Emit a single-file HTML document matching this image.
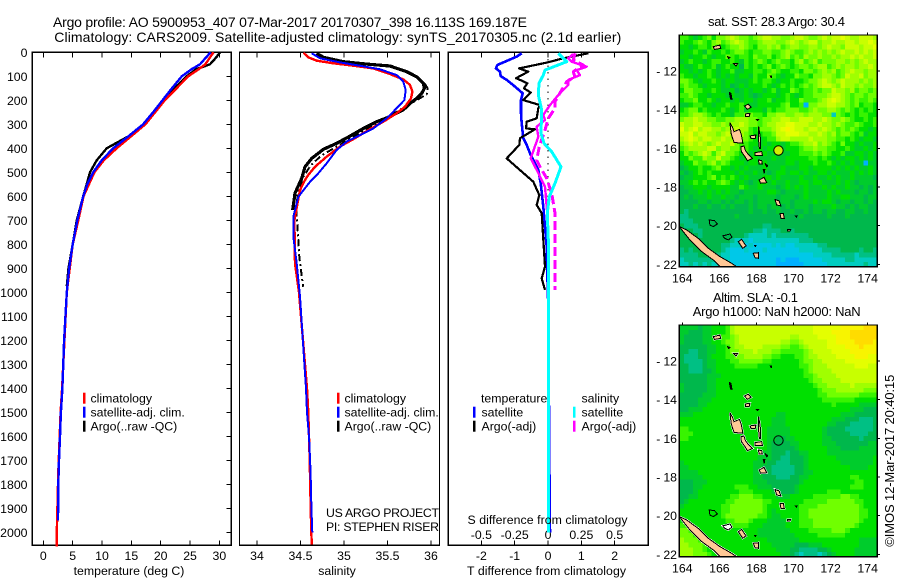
<!DOCTYPE html>
<html>
<head>
<meta charset="utf-8">
<title>Argo profile 5900953_407</title>
<style>
html,body{margin:0;padding:0;background:#fff;}
svg{display:block;}
text{font-family:"Liberation Sans",sans-serif;font-size:12.3px;fill:#000;}
</style>
</head>
<body>
<svg id="fig" xmlns="http://www.w3.org/2000/svg" width="900" height="580" viewBox="0 0 900 580">
<defs>
<clipPath id="clip-map1"><rect x="679.3" y="35" width="198" height="231.7"/></clipPath>
<clipPath id="clip-map2"><rect x="679.3" y="325" width="198" height="231.7"/></clipPath>
</defs>
<rect width="900" height="580" fill="#fff"/>
<text x="53" y="27" style="font-size:14px" textLength="474">Argo profile: AO 5900953_407 07-Mar-2017 20170307_398 16.113S 169.187E</text>
<text x="54.3" y="42" style="font-size:14px" textLength="567">Climatology: CARS2009. Satellite-adjusted climatology: synTS_20170305.nc (2.1d earlier)</text>

<g id="panel-t"></g>
<g id="panel-s"></g>
<g id="panel-d"></g>
<g id="map1"></g>
<g id="map2"></g>

<text x="129" y="575" text-anchor="middle">temperature (deg C)</text>
<text x="337" y="575" text-anchor="middle">salinity</text>
<text x="467" y="575" textLength="159">T difference from climatology</text>
<text x="467.5" y="524" textLength="160">S difference from climatology</text>

<g>
<rect x="83" y="392.7" width="2.5" height="11" fill="#f00"/>
<text x="90.5" y="402.3">climatology</text>
<rect x="83" y="406.7" width="2.5" height="11" fill="#00f"/>
<text x="90.5" y="416.5">satellite-adj. clim.</text>
<rect x="83" y="420.7" width="2.5" height="11" fill="#000"/>
<text x="90.5" y="430.7">Argo(..raw -QC)</text>
</g>
<g>
<rect x="337" y="392.7" width="2.5" height="11" fill="#f00"/>
<text x="344.5" y="402.3">climatology</text>
<rect x="337" y="406.7" width="2.5" height="11" fill="#00f"/>
<text x="344.5" y="416.5">satellite-adj. clim.</text>
<rect x="337" y="420.7" width="2.5" height="11" fill="#000"/>
<text x="344.5" y="430.7">Argo(..raw -QC)</text>
</g>
<text x="326" y="517" textLength="113">US ARGO PROJECT</text>
<text x="326" y="531" textLength="113">PI: STEPHEN RISER</text>
<g>
<text x="481" y="402.3">temperature</text>
<rect x="473" y="406.7" width="2.5" height="11" fill="#00f"/>
<text x="481.5" y="416.5">satellite</text>
<rect x="473" y="420.7" width="2.5" height="11" fill="#000"/>
<text x="481.5" y="430.7">Argo(-adj)</text>
<text x="581.5" y="402.3">salinity</text>
<rect x="573" y="406.7" width="2.5" height="11" fill="#0ff"/>
<text x="581.5" y="416.5">satellite</text>
<rect x="573" y="420.7" width="2.5" height="11" fill="#f0f"/>
<text x="581.5" y="430.7">Argo(-adj)</text>
</g>

<text x="708" y="26" style="font-size:13px" textLength="137">sat. SST: 28.3 Argo: 30.4</text>
<text x="713" y="302" style="font-size:13px" textLength="85">Altim. SLA: -0.1</text>
<text x="692.7" y="316" style="font-size:13px" textLength="168">Argo h1000: NaN h2000: NaN</text>
<text transform="translate(894,546.7) rotate(-90)" style="font-size:13px" textLength="172">©IMOS 12-Mar-2017 20:40:15</text>
</svg>
<script>
/* ---------- chart data ---------- */
const depthTicks = [0,100,200,300,400,500,600,700,800,900,1000,1100,1200,1300,1400,1500,1600,1700,1800,1900,2000];
const tempTicks = [0,5,10,15,20,25,30];
const salTicks = [34,34.5,35,35.5,36];
const salTickLabels = ['34','34.5','35','35.5','36'];
const tDiffTicks = [-2,-1,0,1,2];
const sDiffTicks = [-0.5,-0.25,0,0.25,0.5];
const sDiffTickLabels = ['-0.5','-0.25','0','0.25','0.5'];
const lonTicks = [164,166,168,170,172,174];
const latTicks = [-12,-14,-16,-18,-20,-22];

const tempArgoDepth = [0,20,50,70,100,200,300,350,400,450,500,550,600,700,800,900,975];
const tempArgo = [30.1,29.5,28.4,26.1,24.4,20.4,17.3,14.5,10.8,9.1,7.95,7.4,6.8,5.7,5.0,4.3,4.0];
const tempClimDepth = [0,50,70,100,200,300,400,450,500,600,700,800,1000,1400,1500,1750,2000,2060];
const tempClim = [29,27.6,26.5,24.7,20.7,17.4,12.5,10.3,8.7,6.85,5.96,5.0,4.0,3.2,2.95,2.55,2.3,2.3];
const tempSatDepth = [0,50,70,100,150,200,250,300,350,400,450,500,550,600,700,800,900,1000,1200,1400,1500,1600,1700,1800,1950];
const tempSat = [28.5,26.7,25.3,23.6,21.9,20.3,18.7,17,14.5,11.9,9.95,8.5,7.5,6.8,5.8,5,4.4,4,3.55,3.25,3,2.85,2.67,2.56,2.5];

const salArgoDepth = [4,21,39,49,57,81,102,129,150,171,192,213,240,268,289,317,349,379,404,442,477,525,587,657];
const salArgo = [34.686,34.763,34.993,35.261,35.529,35.721,35.836,35.912,35.924,35.893,35.836,35.759,35.682,35.529,35.376,35.223,35.069,34.916,34.763,34.629,34.552,34.514,34.437,34.41];
const salRawDepth = [130,150,175,430,470,520,585,657,713,852,977];
const salRaw = [35.93,35.96,35.95,34.74,34.62,34.53,34.47,34.45,34.463,34.486,34.53];
const salClimDepth = [1.5,21,35,46,56,67,88,113,136,164,192,227,254,289,324,358,393,435,477,511,532,574,600,700,880,1000,1400,1500,1700,1900,2000,2050];
const salClim = [34.533,34.59,34.686,34.878,35.108,35.338,35.51,35.68,35.759,35.786,35.77,35.7,35.606,35.452,35.28,35.127,34.954,34.8,34.667,34.59,34.552,34.494,34.48,34.43,34.437,34.483,34.575,34.59,34.606,34.617,34.624,34.63];
const salSatDepth = [4,25,42,56,71,95,122,157,199,233,275,317,345,372,407,463,504,539,602,685,768,879,1018,1400,1500,1600,1700,1800,1900,2000];
const salSat = [34.629,34.725,34.954,35.184,35.414,35.606,35.682,35.709,35.694,35.606,35.491,35.338,35.184,35.031,34.916,34.8,34.705,34.61,34.475,34.417,34.417,34.456,34.494,34.563,34.575,34.598,34.61,34.62,34.625,34.636];

const dTSatDepth = [4,18,39,53,67,81,99,115,143,171,199,254,296,358,386,428,463,490,546,643,727,810,921,1060,1500,1900,2000];
const dTSat = [-0.79,-0.94,-1.29,-1.52,-1.56,-1.44,-1.42,-1.24,-0.99,-0.76,-0.81,-0.81,-0.79,-0.74,-0.64,-0.52,-0.39,-0.29,-0.22,-0.14,-0.09,-0.04,-0.02,0.01,0.03,0.05,0.06];
const dTArgoDepth = [4,25,43,67,81,88,108,118,129,150,168,199,220,233,275,289,317,321,358,386,442,497,539,595,636,671,740,893,942,990];
const dTArgo = [1.21,0.46,-0.04,-0.87,-0.59,-0.69,-0.96,-0.79,-0.62,-0.72,-0.52,-0.74,-0.24,-0.29,-0.34,-0.64,-0.66,-0.39,-0.84,-0.86,-1.24,-0.79,-0.44,-0.26,-0.34,-0.19,-0.16,-0.09,-0.19,-0.09];
const dSSatDepth = [4,39,74,95,129,178,240,338,379,414,477,546,602,671,782,1060,1500,2000];
const dSSat = [0.0775,0.14,-0.0225,-0.035,-0.0675,-0.0725,-0.0475,-0.0525,-0.03,0.0275,0.0975,0.0525,0.01,-0.005,0.0025,0.0025,0.002,0.004];
const dSArgoDepth = [7,25,39,60,74,95,115,136,178,220,261,282,310,352,442,490,560,643,699];
const dSArgo = [0.19,0.1525,0.1775,0.29,0.215,0.24,0.1525,0.1525,0.0775,0.015,-0.035,-0.0225,-0.085,-0.0725,-0.13,-0.085,-0.0225,-0.01,-0.0025];
const dSRawDepth = [4,32,53,81,102,122,157,206,233,275,324,393,449,477,525,588,671,782,990];
const dSRaw = [0.2025,0.19,0.265,0.19,0.2025,0.14,0.1025,0.0525,0.0525,0.0025,-0.0225,-0.065,-0.085,-0.06,-0.01,0.0275,0.0525,0.0525,0.0525];

const argoLon = 169.187;
const argoLat = -16.113;
const gridLon0 = 163.84;
const gridLat0 = -10.14;
const gridDLon = 0.2485;
const gridDLat = 0.25;
const paletteKeys = 'abcdefghijklmn';
const paletteColors = ['#00b0ff','#00c8e8','#00ccc0','#00c084','#00b84c','#00cc2c','#00e000','#38f400','#70ff00','#a0ff00','#c8ff00','#e4ff00','#f8f400','#ffdc00'];

const sstGrid = [
"hhgfghigii jkjiihijkk jjiijkkjii jkjkklkjjk kkj",
"hgghihgijh ijkjihhijj jiijkjijkk ijjkjjkkjk klk",
"ggfghhgihg hiijihgiij ijhijjiijj ijkjjikkkj kkl",
"fgghgfhggh ghiihghhii hhijihhiji jijijkjjkj kjk",
"ggfgghgfgg ihghhgihhi ghijhihjii jiijijjkjk jjk",
"fghggfghhg ghgfhghihg hihhgijhij hiiijjijij kjj",
"gffghgghfg hggehghghi ghihghiihi jjhijijjij jkj",
"ggfgfghgfg ghffgghhgh ihgghhgiih ijijhijkjj ijj",
"hggfgghgfg fgfggfhggi hgfggihhgi ijjihikjjk ijj",
"iihgfgghgf ggfffghghh gfgghgghii jkjijkjjji jij",
"hihhgfgggf gefgfggghg fghghghihi jkkjikjjij iij",
"giihhgghgf fgefgfggfg hfggihghhi hiikjjijhi ihi",
"hhihggfggg fgffgfefgg gfghgfghhi iijkkjihii hii",
"ghhigghgfg gfgfggfggh fgghggihhh ijklkjihih hih",
"ffghhggfgg hgghgffggg gghigghaii jjkkjjihig hhg",
"ghiighgggh gfghfgggfh ghhiiihhij iijjihihgh ghg",
"hhijjihghg gfhhiihhgi ijjiijjijj jiicihghgh hgg",
"ijjkjjiihh iijjjiihii jjkkjjkkkj jkjiijihgg hgh",
"kjjkkjjiij ijjkjiihij jkkllkkkjj kjjijihhih ggh",
"ljkljkkjji jjkjjhgiii jklmlkkjkk jkjihihihg gfg",
"kkljkkjjij kjjjihgghh ikklllkkjj kjijhiihgh fgg",
"jklkjkkjjk jjiiihgfgh hjkkjjjjkj jjiihhghgf ggf",
"ijkjkjijkj jkihhggfgf ggfghhijjk ijihgiggfg ffg",
"hijjjjkkij jiihhgfgfg gffggghiij iihhgghgff gfg",
"gihijkjhjk iihghfgfgf fgffgghhhi hihgghffgg fgf",
"ggihhjiiki ihgfgggfff gffggggghh ghgfgfggfg fgf",
"fggihhijhi hgggfggfgf fffggfgggh gghgfgfgff aff",
"efgghgghig gfgfgfffgf ffgfffggfg gggfgfgfgf fgf",
"fefghghggg ggfgffgffe fggfggfgff ggfgfffgfg fgf",
"effggghigh ghgfgfffgg fgffffgffg ffgfgffgff ffe",
"ffghghgghi hgfgfefggf gffgffggfg gfffgfgfef fff",
"effgggfggg gffhgffgff fefgfgfgff fgfgffgffe fef",
"eeffgfgfgf gffefffffg gfeffffgff ffgfgfffef fef",
"efefffgffg ffefffefff fefffefgff ffgffggfff eff",
"eeeeffeffe feffefefff feffeffffg fggfeffeff efe",
"eeefeefeef efeeefeffe ffefefffef fffgffefef fee",
"edeeeeeeee eeeeefeefe efeefeefef feffeeffee fee",
"ddeeeeeeee eefeeeeeee eeeeeefeee eefeeefeee eee",
"dddeeeeeee eeeeeeeeee eeeeeeeeee eeeeeeeeee eee",
"edddeeeeee eeeeeeeedd eeeeeeeeee eeeeeeeeee eee",
"eeeddeeeee eeeeeeddcd ddeedeeeee eeeeeeeeee eee",
"eeeedeeeee eeeedccccd cdddddddee eeeeeeeeee eee",
"eeeeeeeeee edcccbcccc ccccccddde eeeeeeeeee eee",
"eeeeeeeeed dcccbcbbbb cbcbbccccc ddeeeeeeee eee",
"dedeeeeeed cbbbcbbbcb bbbbbbcccc cddddeeeed eed",
"ddddeeeedc cbbbbbbbbb bbbbbbbbbc cccdddddcd ddd",
"cdddddddcc cbbbbbbbbb babaaabbbb bcccccddcc ccc",
"ccdcdcdccc bbbbbbbbbb baaaaaabbb bbcccccccc dcc"
];

const slaGrid = [
"ffffeffggg hjkkkkkkkk kkkkkkkkkl lllllmmmmm nnn",
"ffeeeffggg hjkkkkkkkk kkkkkkkkkl lllmmmmnnn nnn",
"feeeeffggh hijkkkkkkk kkkkjjkkkk llllmmmnnn nnn",
"feeeeffggh iijkkkkkkk kkjjiijkkk kkllmmmmnn nnm",
"eeeeeeffgg hijjkkkkjj jjiihhijkk kkllllmmmn mmm",
"eeddeeffgg hiijjjkjjj iihhhhhijk kkkllllmmm mmm",
"edddeefggg hhiijjjjii hhggghhijj kkkkllllmm mll",
"eddddeffgg ghhiiiiihh gggggghiij jkkkkkllll lll",
"eedddeffgg gghhhhhggg gggggghhij jjkkkkkkll lkk",
"eedddeefgg gggggggggg ggggggghij jjjkkkkkkk kkk",
"eeeeeefffg gggggggggg ggggggghhi jjjjkkkkkk kkk",
"eeeeeeffgg gggggggggg gggggggghi ijjjjkkkkk kkk",
"feeeeeffgg gggggggggg gggggggggh iijjjjjkjj jjj",
"feeeeeffgg gggggggggg gggggggggg hiiijjjjjj iii",
"eeeeefffgg gggggggggg gggggggggg hhiiiiiiih hhh",
"eeeefffggg gggggggggg gggggggggg ghhhhhhhgg ggg",
"eeeeffgggg gggggggggg gggggggggg ggghgggggf fff",
"eefffggggg gggggggggg gggggggggg gggggggfff eee",
"fffggggggg gggggggggg gffggggggg gggggfffee eee",
"gggggggggg gggggggggg fffggggggg gggfffeeed dde",
"gggggggggg gggggggggg fffggggggg ggffeeeddd dde",
"hhgggggggg gggggggggf ffffgggggg gfeeeedddd dde",
"hhhggggggg gggggggggf ffffgggggg gfeeeeeddd dee",
"hhgggggggg gggggggggf feeffggggg gffeeeeeed eee",
"gggggggggg gggggggggf eeeeffgggg gfffeeeeee eff",
"gggggggggg gggggggggf eeeeefgggg ggfffeeeef fff",
"gggggggggg ggggggggff eeedeeffgg ggffffffff fff",
"gggggggggg gggggggfff eeddeeefgg ggggffffff ffg",
"fggggggggg ggggggfffe edddeeefgg gggggfffff ffg",
"ffgggggggg ggggggffee dddddeefgg gggggggfff fgg",
"ffffgggggg ggggggffee dddddeeffg gggggggggg ggg",
"fffffggggg ggggggffee edddeeffgg ggggggghhg ggg",
"eeefffgggg ggggggfffe eeeeeefggg gggggggghh ggg",
"eeeffggggg gghhhggfff eeeeefgggg ggggggghhh ggg",
"eeefgggggg ggghhhgggg ffeeefgggg gghhhggggg ggg",
"eeffgggggg ghhiiihhgg gfffgggggh hhhhhiihhg ggg",
"efgggggggg hhiiiiiihh ggggggghhh hhiiiiiihh ggg",
"fggggggggh hiiiiiiihg gggggghhhh iiiiiiiiih ggg",
"gggggggggh hiiiiiiihg fggggghhii iiiiiiiiih hgg",
"gggggggggh iiiiiiihhg ffgggghhii iiiiiiiiih hgg",
"gggggggggg hhiiihgggf fffggghhhi iiiiiiiiih ggg",
"hhgggggggg ghhhhgggff fffggghhhi iiiiiiiihg ggg",
"iihhgggggg gggggggfff ffffgggghh hhhiiihggg ggg",
"iiihhggggg gggggggfff fffffggggg hhhhhhgggg ggg",
"jiiihggggg gggggggggf ffffffgggg gggggggggf fff",
"jjiiihgggg gggggggggg fffffeeeff fggggggggf fff",
"jjjiihgggg gggggggggg gfffeedddd eefgggggff fff",
"jjjiiihggg gggggggggg ggffedcddd cdefggggff fff"
];

const landIslands = [
  [[163.84,-20.05],[164.23,-20.22],[164.86,-20.66],[165.4,-21.17],[166.03,-21.6],[166.66,-21.95],[166.93,-22.12],[166.03,-22.12],[165.67,-21.78],[165.04,-21.34],[164.41,-20.74],[164.05,-20.31]],
  [[166.57,-14.67],[166.7,-14.9],[166.79,-15.14],[167.08,-15.02],[167.17,-15.25],[167.22,-15.48],[167.27,-15.74],[167.02,-15.72],[166.79,-15.69],[166.7,-15.45],[166.63,-15.22]],
  [[167.17,-15.91],[167.33,-15.88],[167.4,-16.1],[167.51,-16.26],[167.79,-16.52],[167.51,-16.64],[167.36,-16.4],[167.18,-16.17]],
  [[168.12,-14.88],[168.23,-15.57],[168.23,-16.0],[168.16,-16.0],[168.1,-15.43]],
  [[167.92,-16.22],[168.28,-16.17],[168.32,-16.36],[167.92,-16.36]],
  [[168.1,-16.6],[168.28,-16.64],[168.32,-16.81],[168.15,-16.81]],
  [[168.14,-17.64],[168.41,-17.5],[168.55,-17.78],[168.23,-17.81]],
  [[169,-18.64],[169.22,-18.72],[169.32,-18.98],[169.09,-18.93]],
  [[169.27,-19.36],[169.45,-19.36],[169.5,-19.62],[169.32,-19.62]],
  [[169.68,-20.19],[169.85,-20.19],[169.81,-20.28],[169.67,-20.28]],
  [[167.65,-15.36],[167.97,-15.31],[167.94,-15.48],[167.71,-15.5]],
  [[167.35,-13.81],[167.56,-13.72],[167.71,-13.88],[167.51,-13.98]],
  [[167.4,-14.22],[167.65,-14.19],[167.61,-14.36],[167.4,-14.36]],
  [[165.67,-10.74],[166.03,-10.66],[166.07,-10.83],[165.73,-10.88]],
  [[166.75,-11.6],[166.99,-11.6],[166.9,-11.74]],
  [[167.02,-20.83],[167.2,-20.71],[167.44,-21.05],[167.26,-21.17]],
  [[167.83,-21.43],[168.1,-21.4],[168.1,-21.69],[167.92,-21.66]]
];
const reefOutlines = [
  [[165.45,-19.71],[165.73,-19.74],[165.9,-19.91],[165.67,-20.05],[165.49,-19.97]],
  [[166.18,-20.53],[166.58,-20.43],[166.68,-20.6],[166.48,-20.74],[166.3,-20.66]]
];
const blackIslets = [
  [[166.45,-11.26],[166.57,-11.3],[166.5,-11.36]],
  [[166.54,-13.12],[166.62,-13.15],[166.68,-13.47],[166.6,-13.45]],
  [[168.75,-12.26],[168.8,-12.26],[168.8,-12.36]],
  [[168.46,-16.78],[168.6,-16.9],[168.55,-16.95]],
  [[168.37,-17.1],[168.45,-17.1],[168.42,-17.3]],
  [[168.02,-14.52],[168.1,-14.52],[168.06,-14.56]],
  [[167.9,-21.02],[167.97,-21.02],[167.95,-21.08]],
  [[170.1,-19.5],[170.2,-19.5],[170.15,-19.56]]
];

/* ---------- axis functions ---------- */
const yDepth = d => 52.3 + 0.24 * d;
const xTemp = v => 43.3 + 5.87 * v;
const xSal = v => 257 + 87 * (v - 34);
const xDT = v => 548 + 33.33 * v;
const xDS = v => 548 + 133.3 * v;
const xLon = v => 682.3 + 18.54 * (v - 164);
const yLat1 = v => 71 + 19.33 * (-12 - v);
const yLat2 = v => 361 + 19.33 * (-12 - v);

/* ---------- helpers ---------- */
const NS = 'http://www.w3.org/2000/svg';
function node(tag, parent) {
  const el = document.createElementNS(NS, tag);
  parent.appendChild(el);
  return el;
}
function drawLine(parent, x1, y1, x2, y2, w) {
  const el = node('line', parent);
  el.setAttribute('x1', x1);
  el.setAttribute('y1', y1);
  el.setAttribute('x2', x2);
  el.setAttribute('y2', y2);
  el.setAttribute('stroke', '#000');
  el.setAttribute('stroke-width', w);
  el.setAttribute('shape-rendering', 'crispEdges');
  return el;
}
function drawText(parent, x, y, str, anchor) {
  const el = node('text', parent);
  el.setAttribute('x', x);
  el.setAttribute('y', y);
  el.setAttribute('text-anchor', anchor);
  el.textContent = str;
  return el;
}
function drawFrame(parent, x, y, w, h) {
  const el = node('rect', parent);
  el.setAttribute('x', x);
  el.setAttribute('y', y);
  el.setAttribute('width', w);
  el.setAttribute('height', h);
  el.setAttribute('fill', 'none');
  el.setAttribute('stroke', '#000');
  el.setAttribute('stroke-width', 1.3);
  el.setAttribute('shape-rendering', 'crispEdges');
  
  
}
function drawProfile(parent, depths, vals, xf, color, width, dash) {
  const el = node('polyline', parent);
  el.setAttribute('points', depths.map((d, i) => xf(vals[i]).toFixed(1) + ',' + yDepth(d).toFixed(1)).join(' '));
  el.setAttribute('fill', 'none');
  el.setAttribute('stroke', color);
  el.setAttribute('stroke-width', width);
  el.setAttribute('stroke-linejoin', 'round');
  el.setAttribute('shape-rendering', 'crispEdges');
  if (dash) el.setAttribute('stroke-dasharray', dash);
  return el;
}
function xTicks(parent, ticks, xf, topY, botY) {
  ticks.forEach(v => {
    const a = drawLine(parent, xf(v), topY, xf(v), topY + 5, 1);
    
    
    const b = drawLine(parent, xf(v), botY - 5, xf(v), botY, 1);
    
    
  });
}

/* ---------- temperature panel ---------- */
const pT = document.getElementById('panel-t');
drawFrame(pT, 32.3, 52.3, 199, 493);
xTicks(pT, tempTicks, xTemp, 52.3, 545.3);
tempTicks.forEach(v => {
  const t = drawText(pT, xTemp(v), 560, String(v), 'middle');
  
  
});
depthTicks.forEach(d => {
  const tick = drawLine(pT, 226.5, yDepth(d), 231.3, yDepth(d), 1);
  
  
  const t = drawText(pT, 27.5, yDepth(d) + 4.5, String(d), 'end');
  
  
});
const tA = drawProfile(pT, tempArgoDepth, tempArgo, xTemp, '#000', 2.4);


const tC = drawProfile(pT, tempClimDepth, tempClim, xTemp, '#f00', 2.4);


const tS = drawProfile(pT, tempSatDepth, tempSat, xTemp, '#00f', 2.4);



/* ---------- salinity panel ---------- */
const pS = document.getElementById('panel-s');
drawFrame(pS, 239.5, 52.3, 200, 493);
xTicks(pS, salTicks, xSal, 52.3, 545.3);
salTicks.forEach((v, i) => {
  const t = drawText(pS, xSal(v), 560, salTickLabels[i], 'middle');
  
  
});
const sR = drawProfile(pS, salRawDepth, salRaw, xSal, '#000', 2, '7 3 2 3');


const sA = drawProfile(pS, salArgoDepth, salArgo, xSal, '#000', 3.2);


const sC = drawProfile(pS, salClimDepth, salClim, xSal, '#f00', 2.4);


const sS = drawProfile(pS, salSatDepth, salSat, xSal, '#00f', 2);



/* ---------- difference panel ---------- */
const pD = document.getElementById('panel-d');
drawFrame(pD, 448.3, 52.3, 200, 493);
xTicks(pD, tDiffTicks, xDT, 52.3, 545.3);
tDiffTicks.forEach(v => {
  const t = drawText(pD, xDT(v), 560, String(v), 'middle');
  
  
});
sDiffTicks.forEach((v, i) => {
  const t = drawText(pD, xDS(v), 539, sDiffTickLabels[i], 'middle');
  
  
});
const zero = drawLine(pD, xDT(0), yDepth(0), xDT(0), yDepth(1000), 1);
zero.setAttribute('stroke-dasharray', '1.5 5');


const dB = drawProfile(pD, dTSatDepth, dTSat, xDT, '#00f', 2.6);


const dK = drawProfile(pD, dTArgoDepth, dTArgo, xDT, '#000', 2.2);


const dMr = drawProfile(pD, dSRawDepth, dSRaw, xDS, '#f0f', 3, '9 4');


const dM = drawProfile(pD, dSArgoDepth, dSArgo, xDS, '#f0f', 2.4);


const dC = drawProfile(pD, dSSatDepth, dSSat, xDS, '#0ff', 3);



/* ---------- maps ---------- */
function polyPoints(pts, yf) {
  return pts.map(p => xLon(p[0]).toFixed(1) + ',' + yf(p[1]).toFixed(1)).join(' ');
}
function drawMap(id, grid, yf, clip, halo, circleFill, top, bot) {
  const g = document.getElementById(id);
  const inner = node('g', g);
  inner.setAttribute('clip-path', 'url(#' + clip + ')');
  
  
  const bg = node('rect', inner);
  bg.setAttribute('x', 679.3);
  bg.setAttribute('y', top);
  bg.setAttribute('width', 198);
  bg.setAttribute('height', bot - top);
  bg.setAttribute('fill', '#00cc2c');
  
  
  grid.forEach((row, r) => {
    const cells = row.replace(/\s/g, '');
    for (let c = 0; c < cells.length; c++) {
      const rect = node('rect', inner);
      const lon = gridLon0 + c * gridDLon;
      const lat = gridLat0 - r * gridDLat;
      rect.setAttribute('x', xLon(lon).toFixed(2));
      rect.setAttribute('y', yf(lat).toFixed(2));
      rect.setAttribute('width', (xLon(lon + gridDLon) - xLon(lon) + 0.4).toFixed(2));
      rect.setAttribute('height', (yf(lat - gridDLat) - yf(lat) + 0.4).toFixed(2));
      rect.setAttribute('fill', paletteColors[paletteKeys.indexOf(cells[c])]);
      rect.setAttribute('shape-rendering', 'crispEdges');
      
      
    }
  });
  if (halo) {
    landIslands.concat(reefOutlines.slice(1)).forEach(pts => {
      const h = node('polygon', inner);
      h.setAttribute('points', polyPoints(pts, yf));
      h.setAttribute('fill', '#fff');
      h.setAttribute('stroke', '#fff');
      h.setAttribute('stroke-width', 2);
      h.setAttribute('shape-rendering', 'crispEdges');
      
      
    });
  }
  landIslands.forEach(pts => {
    const p = node('polygon', inner);
    p.setAttribute('points', polyPoints(pts, yf));
    p.setAttribute('fill', '#ffc896');
    p.setAttribute('stroke', '#000');
    p.setAttribute('stroke-width', 1);
    p.setAttribute('shape-rendering', 'crispEdges');
    
    
  });
  reefOutlines.forEach((pts, i) => {
    const p = node('polygon', inner);
    p.setAttribute('points', polyPoints(pts, yf));
    p.setAttribute('fill', halo && i === 1 ? '#fff' : 'none');
    p.setAttribute('stroke', '#000');
    p.setAttribute('stroke-width', 1);
    p.setAttribute('shape-rendering', 'crispEdges');
    
    
  });
  blackIslets.forEach(pts => {
    const p = node('polygon', inner);
    p.setAttribute('points', polyPoints(pts, yf));
    p.setAttribute('fill', '#000');
    p.setAttribute('stroke', '#000');
    p.setAttribute('stroke-width', 1);
    p.setAttribute('shape-rendering', 'crispEdges');
    
    
  });
  const c = node('circle', g);
  c.setAttribute('cx', xLon(argoLon));
  c.setAttribute('cy', yf(argoLat));
  c.setAttribute('r', 4.7);
  c.setAttribute('fill', circleFill);
  c.setAttribute('stroke', '#000');
  c.setAttribute('stroke-width', 1);
  
  
  drawFrame(g, 679.3, top, 198, bot - top);
  lonTicks.forEach(v => {
    const tk = drawLine(g, xLon(v), top - 2.5, xLon(v), top, 1);
    
    
    const t = drawText(g, xLon(v), bot + 16, String(v), 'middle');
    
    
  });
  latTicks.forEach(v => {
    const tk = drawLine(g, 877.3, yf(v), 880, yf(v), 1);
    
    
    const t = drawText(g, 677, yf(v) + 4.5, '-', 'end');
    const digits = node('tspan', t);
    digits.setAttribute('dx', 3);
    digits.textContent = String(-v);
    
    
  });
}
drawMap('map1', sstGrid, yLat1, 'clip-map1', false, '#d0f000', 35, 266.7);
drawMap('map2', slaGrid, yLat2, 'clip-map2', true, 'none', 325, 556.7);
</script>
</body>
</html>
